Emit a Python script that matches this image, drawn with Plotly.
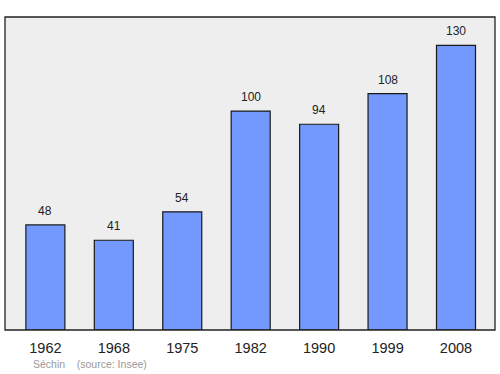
import plotly.graph_objects as go

years = ["1962", "1968", "1975", "1982", "1990", "1999", "2008"]
population = [48, 41, 54, 100, 94, 108, 130]
positions = list(range(len(years)))

fig = go.Figure()
fig.add_trace(go.Bar(
    x=positions, y=population, width=0.57,
    marker=dict(color="#7399ff", line=dict(color="#1a1a1a", width=1.2)),
    hoverinfo="skip",
))

for p, v in zip(positions, population):
    fig.add_annotation(x=p, y=v, text=str(v), showarrow=False,
                       yanchor="bottom", yshift=5,
                       font=dict(family="Liberation Sans, Arial", size=12, color="#222"))

fig.add_annotation(xref="paper", yref="paper", x=(31 - 5) / 490, y=(330 - 364) / 313,
                   xanchor="left", yanchor="middle", showarrow=False,
                   text="Séchin &nbsp;&nbsp;&nbsp;(source: Insee)",
                   font=dict(family="Liberation Sans, Arial", size=10.5, color="#999"))

fig.add_shape(type="rect", xref="paper", yref="paper", x0=0, y0=0, x1=1, y1=1,
              line=dict(color="#222", width=1.3), layer="above")

fig.update_layout(
    width=500, height=374,
    margin=dict(l=5, r=5, t=17, b=44),
    paper_bgcolor="white", plot_bgcolor="#eeeeee",
    showlegend=False,
    xaxis=dict(range=[-0.59, 6.57], tickvals=positions, ticktext=years,
               showgrid=False, zeroline=False, ticks="", fixedrange=True,
               ticklabelstandoff=7,
               tickfont=dict(family="Liberation Sans, Arial", size=14.5, color="#222")),
    yaxis=dict(range=[0, 143], showgrid=False, zeroline=False, showticklabels=False,
               ticks="", fixedrange=True),
)

fig.write_html("out.html")
